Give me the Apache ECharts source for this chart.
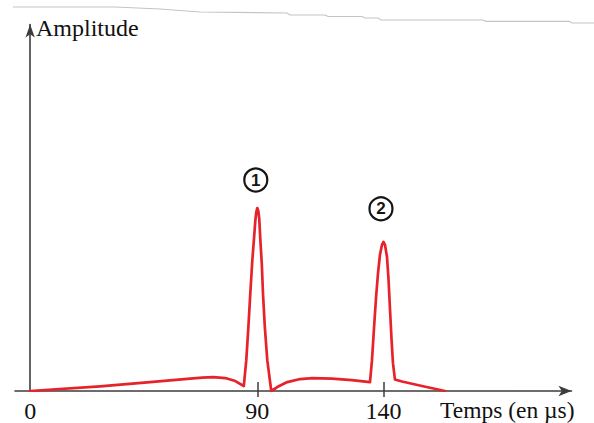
<!DOCTYPE html>
<html>
<head>
<meta charset="utf-8">
<script src="https://cdn.jsdelivr.net/npm/echarts@6/dist/echarts.min.js"></script>
<style>
html,body{margin:0;padding:0;background:#fff;}
#chart{width:594px;height:423px;}
</style>
</head>
<body>
<div id="chart"></div>
<script>
// Time in microseconds (x) and amplitude (arbitrary units, y)
const timeUs = [0, 27.7, 47.5, 63.4, 68.2, 72.6, 77.3, 81.3, 84.65, 85.64, 86.44, 87.23, 88.02, 88.69, 89.21, 89.6, 90, 90.4, 90.79, 91.19, 91.78, 92.26, 92.97, 93.96, 95.54, 97.92, 101.88, 107.0, 111.8, 119.6, 127.5, 134.65, 135.45, 136.24, 137.03, 137.82, 138.61, 139.41, 140, 140.59, 141.39, 141.98, 142.57, 143.17, 143.76, 144.55, 147.33, 155.25, 164.36];
const amplitude = [0, 1.26, 2.41, 3.35, 3.62, 3.75, 3.49, 2.68, 1.34, 8.31, 16.89, 26.27, 35.12, 41.02, 45.84, 48.26, 49.33, 48.53, 46.38, 41.02, 34.32, 26.27, 17.43, 8.31, 0, 1.07, 2.41, 3.22, 3.49, 3.35, 2.95, 2.41, 8.31, 16.89, 24.93, 31.64, 36.73, 39.41, 40.21, 39.41, 36.19, 30.29, 22.25, 14.21, 7.51, 3.08, 2.55, 1.34, 0];
const tickValues = [90, 140];
const tickLabels = [0, 90, 140];
const peakTimes = [90, 140];
const peakNames = ['1', '2'];
const xTitle = 'Temps (en µs)';
const yTitle = 'Amplitude';

const seriesData = timeUs.map((t, i) => [t, amplitude[i]]);
const peakOffsets = [[-1.5, -28], [-2.5, -33]];
const markData = peakTimes.map((t, i) => {
  const idx = timeUs.indexOf(t);
  return {
    coord: [t, amplitude[idx]],
    symbolOffset: peakOffsets[i],
    label: { formatter: peakNames[i] }
  };
});

const serif = "'Liberation Serif', 'Times New Roman', serif";
const axisColor = '#3c3c3c';

const chart = echarts.init(document.getElementById('chart'), null, { renderer: 'svg' });
chart.setOption({
  animation: false,
  backgroundColor: '#fff',
  title: [
    { text: yTitle, left: 36, top: 16, padding: 0,
      textStyle: { fontFamily: serif, fontSize: 24, fontWeight: 'normal', color: '#111' } },
    { text: xTitle, left: 440, top: 398, padding: 0,
      textStyle: { fontFamily: serif, fontSize: 23.5, fontWeight: 'normal', color: '#111' } }
  ],
  graphic: [{
    type: 'polyline', silent: true,
    shape: { points: [[13,7],[115,7],[160,9],[200,12],[287,13],[290,15],[325,15],[328,16.5],[362,16.5],[365,18],[378,18],[381,20],[483,20],[486,21.3],[569,21.3],[572,23],[594,23]] },
    style: { stroke: '#c4c4c4', lineWidth: 1.2, fill: null }
  }],
  grid: { left: 15, right: 22.5, top: 24.5, bottom: 30 },
  xAxis: [{
    type: 'value', min: -6, max: 214.5, position: 'bottom',
    axisLine: { show: true, onZero: true, symbol: ['none', 'arrow'], symbolSize: [8, 13],
      lineStyle: { color: axisColor, width: 1.6 } },
    axisTick: { show: true, customValues: tickValues, length: 6, inside: false,
      lineStyle: { color: axisColor, width: 1.5 } },
    axisLabel: { show: true, customValues: tickLabels, margin: 8,
      fontFamily: serif, fontSize: 24, color: '#111' },
    splitLine: { show: false }
  }, {
    type: 'value', min: -6, max: 214.5, position: 'bottom',
    axisLine: { show: false },
    axisTick: { show: true, customValues: tickValues, length: 9, inside: true,
      lineStyle: { color: axisColor, width: 1.5 } },
    axisLabel: { show: false },
    splitLine: { show: false }
  }],
  yAxis: {
    type: 'value', min: 0, max: 98.8,
    axisLine: { show: true, onZero: true, onZeroAxisIndex: 0, symbol: ['none', 'arrow'], symbolSize: [7, 13],
      lineStyle: { color: axisColor, width: 1.6 } },
    axisTick: { show: false },
    axisLabel: { show: false },
    splitLine: { show: false }
  },
  series: [{
    type: 'line',
    xAxisIndex: 0,
    data: seriesData,
    showSymbol: false,
    symbol: 'none',
    smooth: false,
    lineStyle: { color: '#e6232b', width: 2.7, join: 'round', cap: 'round' },
    markPoint: {
      symbol: 'circle',
      symbolSize: 23,
      silent: true,
      itemStyle: { color: '#fff', borderColor: '#151515', borderWidth: 2.2 },
      label: { show: true, position: 'inside', color: '#151515',
        fontFamily: "'Liberation Sans', 'Noto Sans', sans-serif", fontSize: 17, fontWeight: 'bold' },
      data: markData
    }
  }]
});
</script>
</body>
</html>
